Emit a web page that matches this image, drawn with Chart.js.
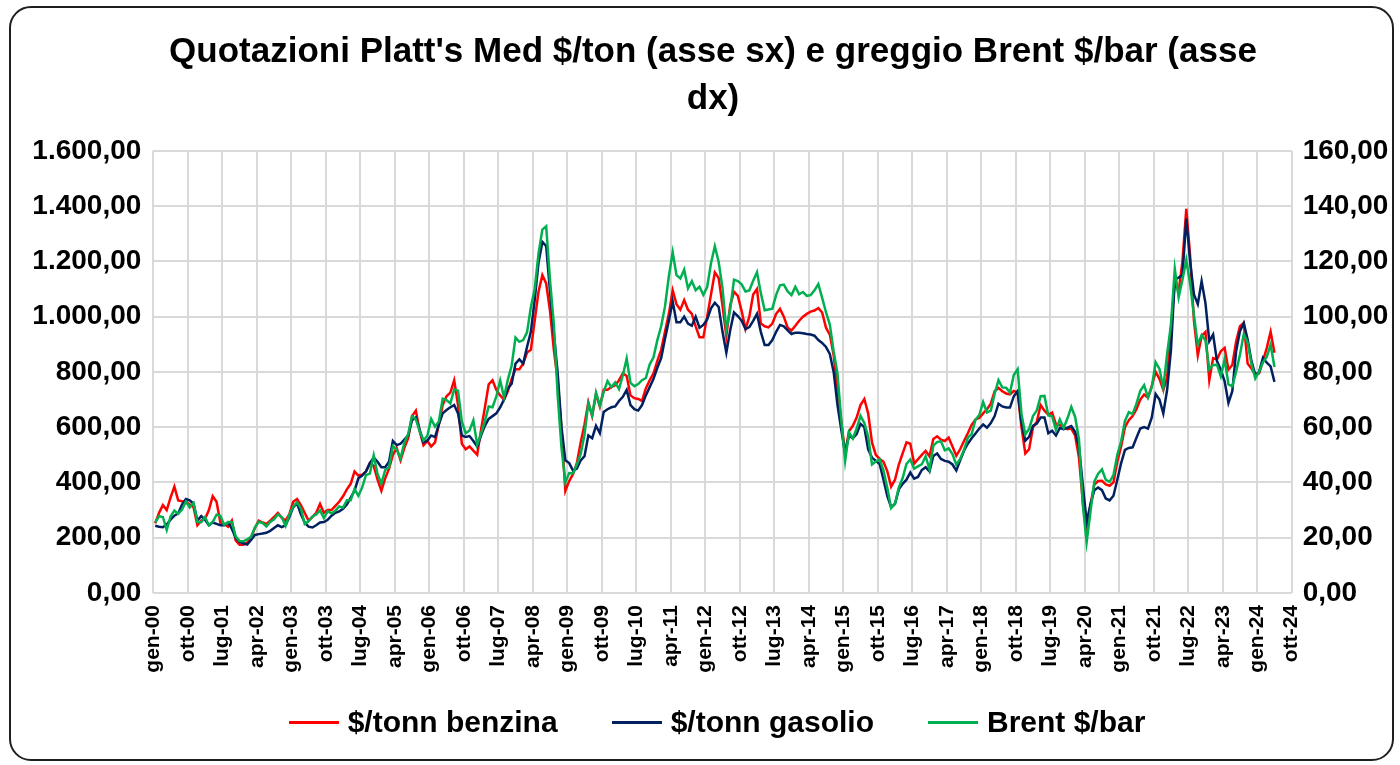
<!DOCTYPE html>
<html lang="it">
<head>
<meta charset="utf-8">
<title>Quotazioni Platt's Med e Brent</title>
<script src="https://cdn.jsdelivr.net/npm/chart.js@4.4.1/dist/chart.umd.min.js"></script>
<style>
  html, body { margin: 0; padding: 0; background: #fff; }
  #box { position: relative; width: 1400px; height: 765px; }
  #cornice {
    position: absolute; left: 9px; top: 6px; width: 1381px; height: 751px;
    border: 2px solid #1f1f1f; border-radius: 22px; pointer-events: none;
  }
  #legenda {
    position: absolute; left: 34px; width: 1366px; top: 700px; height: 44px;
    display: flex; justify-content: center; align-items: center;
    font-family: 'Liberation Sans', Arial, sans-serif; font-weight: bold; font-size: 30px; color: #000;
  }
  #legenda .voce { display: flex; align-items: center; margin: 0 27px; }
  #legenda .linea { display: inline-block; width: 50px; height: 3px; margin-right: 9px; }
</style>
</head>
<body>
<div id="box">
  <canvas id="grafico" width="1400" height="765"></canvas>
  <div id="legenda"></div>
  <div id="cornice"></div>
</div>
<script>
// etichette dell'asse x (una ogni 9 mesi, da gen-00 a ott-24)
const etichetteAsseX = [
  'gen-00', 'ott-00', 'lug-01', 'apr-02', 'gen-03', 'ott-03', 'lug-04', 'apr-05', 'gen-06',
  'ott-06', 'lug-07', 'apr-08', 'gen-09', 'ott-09', 'lug-10', 'apr-11', 'gen-12', 'ott-12',
  'lug-13', 'apr-14', 'gen-15', 'ott-15', 'lug-16', 'apr-17', 'gen-18', 'ott-18', 'lug-19',
  'apr-20', 'gen-21', 'ott-21', 'lug-22', 'apr-23', 'gen-24', 'ott-24'
];
const mesiAsse = 297; // da gen-00 a ott-24

// $/tonn benzina, mensile gen-00 .. mag-24
const benzina = [
  252, 290, 318, 300, 345, 385, 335, 332, 330, 320, 310, 245,
  262, 268, 300, 350, 330, 255, 250, 240, 262, 190, 175, 175,
  182, 200, 235, 262, 255, 250, 262, 275, 290, 272, 262, 285,
  330, 340, 318, 290, 262, 275, 290, 322, 290, 300, 300, 315,
  330, 350, 375, 395, 440, 425, 428, 440, 470, 460, 410, 370,
  415, 450, 500, 525, 480, 525, 560, 640, 660, 585, 535, 550,
  530, 545, 610, 680, 712, 725, 770, 680, 540, 520, 530, 515,
  500, 590, 670, 755, 770, 735, 715, 700, 730, 775, 810, 810,
  830, 870, 880, 985, 1090, 1150, 1120, 1020, 880, 770, 590, 370,
  405, 430, 470, 545, 610, 690, 640, 720, 675, 735, 735, 745,
  752, 770, 795, 785, 715, 705, 702, 695, 740, 770, 795, 840,
  880, 945, 1010, 1095, 1045, 1025, 1060, 1025, 1010, 965, 925, 925,
  1000, 1080, 1160, 1140, 1040, 930, 1040, 1090, 1075, 1020, 955, 1000,
  1080, 1100, 975, 965, 961, 975, 1010, 1028, 1000, 960, 950, 967,
  985, 1000, 1010, 1018, 1022, 1031, 1015, 960, 935, 860, 740, 620,
  505, 585, 605, 635, 680, 702, 650, 545, 500, 485, 475, 440,
  385, 410, 465, 505, 545, 540, 468, 484, 500, 514, 495, 557,
  567, 555, 550, 562, 530, 497, 520, 550, 578, 608, 628, 633,
  650, 665, 685, 730, 742, 730, 722, 719, 731, 725, 600, 505,
  520, 600, 620, 680, 660, 645, 653, 610, 608, 600, 593, 595,
  570, 490, 330, 215, 320, 392, 405, 406, 393, 388, 400, 475,
  530, 600, 625, 640, 665, 700, 718, 707, 749, 800, 775, 735,
  780, 960, 1125, 1090, 1200, 1390, 1220, 985, 860, 930, 945, 770,
  850, 845, 875, 887, 808, 825, 910, 965, 977, 830, 812, 790,
  795, 840, 887, 945, 869
];

// $/tonn gasolio, mensile gen-00 .. mag-24
const gasolio = [
  243, 240, 238, 248, 265, 280, 288, 320, 340, 335, 323, 262,
  278, 265, 245, 255, 250, 245, 245, 255, 232, 200, 185, 180,
  175, 192, 210, 213, 215, 218, 225, 235, 245, 238, 245, 275,
  310, 325, 285, 255, 240, 237, 245, 255, 257, 265, 280, 290,
  295, 305, 320, 345, 370, 415, 425, 440, 470, 490, 475, 455,
  455, 475, 550, 535, 540, 555, 570, 625, 635, 590, 545, 552,
  570, 564, 610, 650, 662, 672, 680, 650, 570, 565, 568, 550,
  530, 570, 605, 630, 640, 650, 672, 700, 740, 757, 830, 845,
  830, 890, 945, 1060, 1195, 1270, 1255, 1090, 940, 795, 600, 480,
  470, 443, 450, 480, 495, 570, 560, 605, 578, 655, 665, 672,
  675, 695, 710, 735, 680, 665, 660, 680, 715, 745, 775, 815,
  850, 920, 985, 1055, 980, 980, 1000, 975, 967, 1000, 960, 970,
  990, 1030, 1050, 1035, 945, 870, 950, 1015, 1002, 985, 955, 962,
  985, 1010, 945, 897, 897, 915, 945, 970, 965, 950, 937, 942,
  942, 940, 937, 935, 931, 915, 905, 890, 865, 800, 680, 590,
  505, 570, 560, 575, 612, 600, 520, 490, 478, 467, 410, 350,
  310, 323, 375, 395, 410, 436, 414, 420, 445, 455, 440, 496,
  505, 485, 478, 475, 465, 443, 480, 515, 540, 560, 577, 595,
  610, 598, 615, 640, 685, 675, 671, 671, 712, 731, 617, 551,
  565, 605, 613, 635, 635, 578, 587, 570, 597, 593, 598, 604,
  583, 530, 390, 258, 320, 372, 382, 372, 342, 335, 352, 410,
  470, 518, 525, 527, 562, 595, 600, 595, 635, 720, 700, 650,
  735, 880, 1135, 1141, 1150, 1355, 1200, 1080, 1045, 1128, 1049, 911,
  935, 839, 808, 766, 688, 730, 875, 947, 977, 917, 839, 790,
  800, 851, 833, 820, 764
];

// Brent $/bar (asse destro), mensile gen-00 .. mag-24
const brent = [
  25.5, 27.8, 27.5, 22.8, 27.7, 29.8, 28.7, 30.2, 33.1, 31.0, 32.6, 25.7,
  25.6, 27.5, 24.5, 25.7, 28.3, 27.9, 24.6, 25.7, 25.6, 20.5, 18.8, 18.7,
  19.4, 20.3, 23.7, 25.7, 25.4, 24.1, 25.7, 26.7, 28.4, 27.5, 24.3, 28.3,
  31.2, 32.8, 30.6, 25.0, 25.9, 27.7, 28.4, 29.9, 27.1, 29.6, 28.8, 29.8,
  31.3, 30.9, 33.6, 33.6, 37.6, 35.2, 38.2, 42.7, 43.2, 49.8, 43.1, 39.6,
  44.5, 45.5, 53.1, 51.9, 48.7, 54.4, 57.5, 64.0, 62.9, 58.5, 55.2, 56.9,
  63.0, 60.2, 62.1, 70.3, 69.8, 68.6, 73.7, 73.2, 62.0, 57.8, 58.8, 62.5,
  53.7, 57.6, 62.1, 67.5, 67.2, 71.1, 76.9, 70.8, 77.2, 82.3, 92.4, 90.9,
  91.5, 94.3, 103.4, 110.0, 122.8, 131.5, 132.7, 113.2, 97.2, 71.6, 52.5, 40.0,
  43.4, 43.3, 46.5, 50.2, 57.3, 68.6, 64.4, 72.5, 67.7, 72.8, 76.7, 74.5,
  76.2, 73.8, 78.8, 84.8, 76.0, 74.8, 75.6, 77.0, 77.8, 82.7, 85.3, 91.5,
  96.5, 103.7, 114.6, 123.3, 115.0, 113.8, 117.0, 110.2, 112.8, 109.6, 110.8, 107.9,
  110.7, 119.3, 125.5, 119.8, 110.3, 95.2, 102.6, 113.4, 112.9, 111.7, 109.1, 109.5,
  113.0, 116.1, 108.5, 102.3, 102.6, 102.9, 107.9, 111.3, 111.6, 109.1, 107.8, 110.8,
  108.1, 108.9, 107.5, 107.8, 109.5, 111.8, 106.8, 101.6, 97.1, 87.4, 79.4, 62.3,
  47.8, 58.1, 55.9, 59.5, 64.1, 61.5, 56.6, 46.5, 47.6, 48.4, 44.3, 38.0,
  30.7, 32.2, 38.2, 41.6, 46.7, 48.3, 45.0, 45.8, 46.6, 49.5, 44.7, 53.3,
  54.6, 54.9, 51.6, 52.3, 50.3, 46.4, 48.5, 51.7, 56.2, 57.5, 62.7, 64.4,
  69.1, 65.3, 66.0, 72.1, 77.0, 74.4, 74.3, 72.5, 78.9, 81.0, 64.8, 57.4,
  59.4, 64.0, 66.1, 71.2, 71.3, 64.2, 63.9, 59.0, 62.8, 59.7, 63.2, 67.3,
  63.7, 55.7, 32.0, 18.4, 29.4, 40.3, 43.2, 44.7, 40.9, 40.2, 42.7, 50.0,
  54.8, 62.3, 65.4, 64.8, 68.5, 73.2, 75.2, 70.8, 74.5, 83.5, 81.1, 74.2,
  86.5, 97.1, 117.3, 107.0, 113.3, 120.5, 111.9, 100.5, 89.8, 93.3, 91.4, 80.9,
  82.5, 82.6, 78.4, 84.6, 75.5, 74.8, 80.1, 86.2, 93.7, 90.6, 82.9, 77.6,
  80.1, 83.5, 85.4, 89.9, 81.8
];

const FONT = "'Liberation Sans', Arial, sans-serif";
const GRIGIO = '#d9d9d9';

// numero in formato italiano con due decimali (1.600,00)
function formatoIt(v) {
  const parti = Number(v).toFixed(2).split('.');
  parti[0] = parti[0].replace(/\B(?=(\d{3})+(?!\d))/g, '.');
  return parti.join(',');
}

// ogni valore mensile sta al centro del suo mese
function punti(serie) {
  return serie.map((v, i) => ({ x: i + 0.5, y: v }));
}

// legenda html sotto il grafico, costruita dai dataset
const legendaHtml = {
  id: 'legendaHtml',
  afterUpdate(chart) {
    const box = document.getElementById('legenda');
    box.innerHTML = '';
    chart.data.datasets.forEach((ds) => {
      const voce = document.createElement('span');
      voce.className = 'voce';
      const linea = document.createElement('span');
      linea.className = 'linea';
      linea.style.background = ds.borderColor;
      const testo = document.createElement('span');
      testo.textContent = ds.label;
      voce.appendChild(linea);
      voce.appendChild(testo);
      box.appendChild(voce);
    });
  }
};

const ctx = document.getElementById('grafico').getContext('2d');
new Chart(ctx, {
  type: 'line',
  data: {
    datasets: [
      {
        label: '$/tonn benzina',
        data: punti(benzina),
        borderColor: '#ff0000',
        yAxisID: 'y',
        order: 2
      },
      {
        label: '$/tonn gasolio',
        data: punti(gasolio),
        borderColor: '#002060',
        yAxisID: 'y',
        order: 1
      },
      {
        label: 'Brent $/bar',
        data: punti(brent),
        borderColor: '#00b050',
        yAxisID: 'y1',
        order: 0
      }
    ]
  },
  plugins: [legendaHtml],
  options: {
    responsive: false,
    animation: false,
    elements: {
      line: { borderWidth: 2.5, tension: 0 },
      point: { radius: 0 }
    },
    layout: { padding: { left: 26, right: 0, top: 0, bottom: 87 } },
    plugins: {
      title: {
        display: true,
        text: ["Quotazioni Platt's Med $/ton (asse sx) e greggio Brent $/bar (asse", 'dx)'],
        color: '#000',
        font: { family: FONT, size: 35, weight: 'bold', lineHeight: 1.34 },
        padding: { top: 29, bottom: 28 }
      },
      legend: { display: false },
      tooltip: { enabled: false }
    },
    scales: {
      x: {
        type: 'linear',
        min: 0,
        max: mesiAsse,
        ticks: {
          stepSize: 9,
          maxTicksLimit: 40,
          autoSkip: false,
          minRotation: 90,
          maxRotation: 90,
          padding: 12,
          color: '#000',
          font: { family: FONT, size: 21, weight: 'bold' },
          callback: (v) => etichetteAsseX[Math.round(v / 9)]
        },
        grid: { color: GRIGIO, lineWidth: 2, drawTicks: false },
        border: { display: false },
        afterFit: (s) => { s.height = 85; }
      },
      y: {
        position: 'left',
        min: 0,
        max: 1600,
        ticks: {
          stepSize: 200,
          padding: 12,
          color: '#000',
          font: { family: FONT, size: 28, weight: 'bold' },
          callback: formatoIt
        },
        grid: { color: GRIGIO, lineWidth: 2, drawTicks: false },
        border: { display: false },
        afterFit: (s) => { s.width = 127.3; }
      },
      y1: {
        position: 'right',
        min: 0,
        max: 160,
        ticks: {
          stepSize: 20,
          padding: 11,
          color: '#000',
          font: { family: FONT, size: 28, weight: 'bold' },
          callback: formatoIt
        },
        grid: { display: false, drawTicks: false },
        border: { display: false },
        afterFit: (s) => { s.width = 108.3; }
      }
    }
  }
});
</script>
</body>
</html>
